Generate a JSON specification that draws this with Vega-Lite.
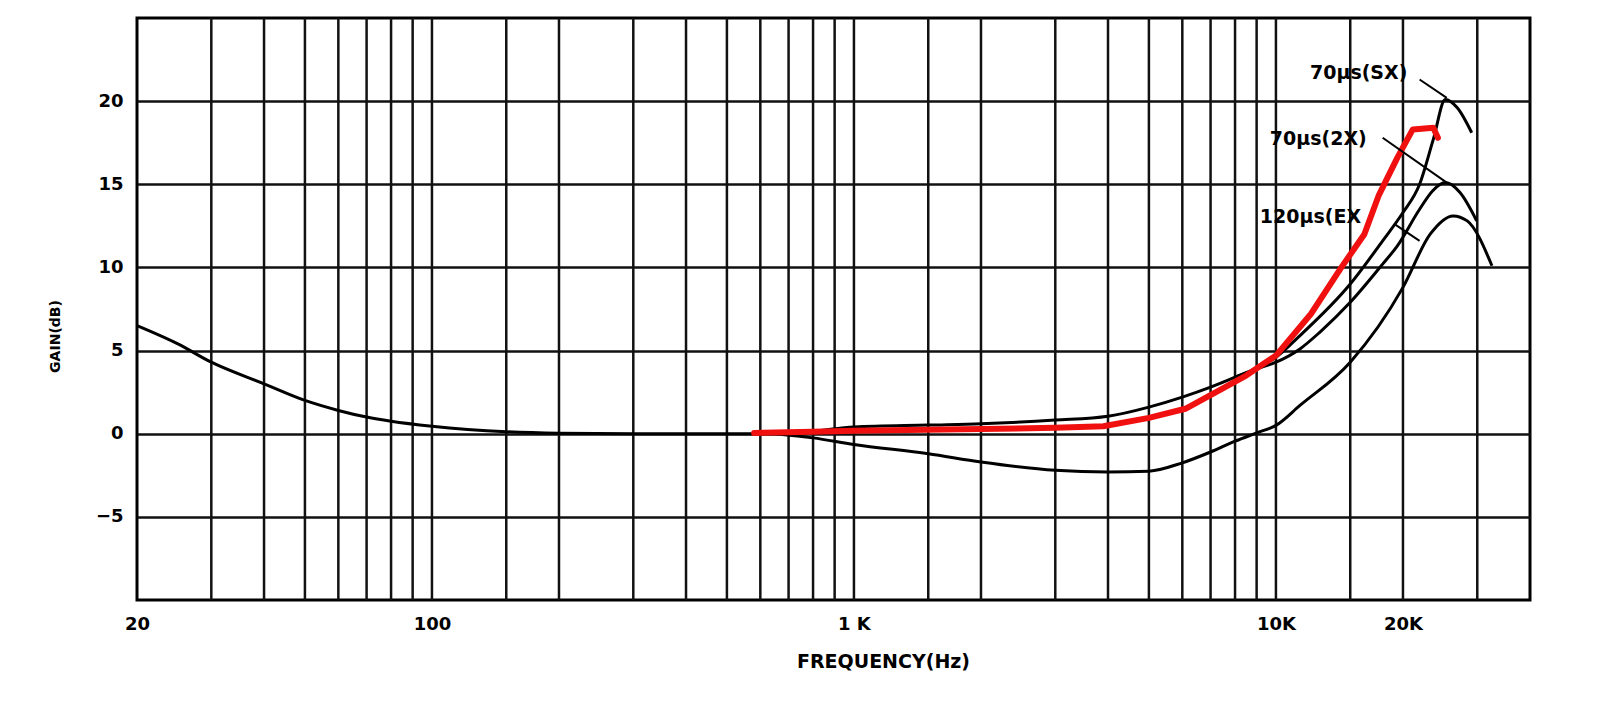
{
  "$schema": "https://vega.github.io/schema/vega-lite/v6.json",
  "width": 1393,
  "height": 582,
  "autosize": {"type": "none"},
  "padding": {"left": 137, "top": 18, "right": 70, "bottom": 105},
  "background": "white",
  "datasets": {
    "grid": [
      {"f": 30}, {"f": 40}, {"f": 50}, {"f": 60}, {"f": 70}, {"f": 80}, {"f": 90},
      {"f": 100}, {"f": 150}, {"f": 200}, {"f": 300}, {"f": 400}, {"f": 500}, {"f": 600}, {"f": 700}, {"f": 800}, {"f": 900},
      {"f": 1000}, {"f": 1500}, {"f": 2000}, {"f": 3000}, {"f": 4000}, {"f": 5000}, {"f": 6000}, {"f": 7000}, {"f": 8000}, {"f": 9000},
      {"f": 10000}, {"f": 15000}, {"f": 20000}, {"f": 30000}
    ],
    "curves": [
      {"series": "common", "f": 20, "db": 6.5},
      {"series": "common", "f": 25, "db": 5.4},
      {"series": "common", "f": 30, "db": 4.3},
      {"series": "common", "f": 40, "db": 3.0},
      {"series": "common", "f": 50, "db": 2.0},
      {"series": "common", "f": 60, "db": 1.4},
      {"series": "common", "f": 70, "db": 1.0},
      {"series": "common", "f": 80, "db": 0.75},
      {"series": "common", "f": 100, "db": 0.45},
      {"series": "common", "f": 150, "db": 0.12},
      {"series": "common", "f": 200, "db": 0.03},
      {"series": "common", "f": 300, "db": 0},
      {"series": "common", "f": 500, "db": 0},
      {"series": "common", "f": 650, "db": 0},

      {"series": "SX", "f": 650, "db": 0},
      {"series": "SX", "f": 800, "db": 0.15},
      {"series": "SX", "f": 1000, "db": 0.4},
      {"series": "SX", "f": 1500, "db": 0.52},
      {"series": "SX", "f": 2000, "db": 0.6},
      {"series": "SX", "f": 3000, "db": 0.82},
      {"series": "SX", "f": 4000, "db": 1.05},
      {"series": "SX", "f": 5000, "db": 1.6},
      {"series": "SX", "f": 6000, "db": 2.2},
      {"series": "SX", "f": 7000, "db": 2.8},
      {"series": "SX", "f": 8000, "db": 3.4},
      {"series": "SX", "f": 9000, "db": 3.95},
      {"series": "SX", "f": 10000, "db": 4.6},
      {"series": "SX", "f": 11400, "db": 5.9},
      {"series": "SX", "f": 15000, "db": 9.0},
      {"series": "SX", "f": 17900, "db": 11.6},
      {"series": "SX", "f": 20000, "db": 13.3},
      {"series": "SX", "f": 21900, "db": 15.0},
      {"series": "SX", "f": 23600, "db": 17.7},
      {"series": "SX", "f": 25200, "db": 20.1},
      {"series": "SX", "f": 26900, "db": 19.6},
      {"series": "SX", "f": 29100, "db": 18.1},

      {"series": "2X", "f": 8000, "db": 3.4},
      {"series": "2X", "f": 9000, "db": 3.9},
      {"series": "2X", "f": 10000, "db": 4.3},
      {"series": "2X", "f": 11400, "db": 5.1},
      {"series": "2X", "f": 12700, "db": 6.1},
      {"series": "2X", "f": 15000, "db": 7.9},
      {"series": "2X", "f": 17900, "db": 10.2},
      {"series": "2X", "f": 19400, "db": 11.3},
      {"series": "2X", "f": 21900, "db": 13.5},
      {"series": "2X", "f": 23500, "db": 14.6},
      {"series": "2X", "f": 25200, "db": 15.1},
      {"series": "2X", "f": 27300, "db": 14.5},
      {"series": "2X", "f": 29900, "db": 12.8},

      {"series": "EX", "f": 650, "db": 0},
      {"series": "EX", "f": 800, "db": -0.25},
      {"series": "EX", "f": 1000, "db": -0.65},
      {"series": "EX", "f": 1500, "db": -1.2},
      {"series": "EX", "f": 2000, "db": -1.7},
      {"series": "EX", "f": 3000, "db": -2.2},
      {"series": "EX", "f": 4000, "db": -2.3},
      {"series": "EX", "f": 5000, "db": -2.25},
      {"series": "EX", "f": 6000, "db": -1.75},
      {"series": "EX", "f": 7000, "db": -1.1},
      {"series": "EX", "f": 8000, "db": -0.45},
      {"series": "EX", "f": 9000, "db": 0.05},
      {"series": "EX", "f": 10000, "db": 0.5},
      {"series": "EX", "f": 11400, "db": 1.7},
      {"series": "EX", "f": 15000, "db": 4.3},
      {"series": "EX", "f": 20000, "db": 8.8},
      {"series": "EX", "f": 23200, "db": 12.0},
      {"series": "EX", "f": 26300, "db": 13.1},
      {"series": "EX", "f": 28400, "db": 12.8},
      {"series": "EX", "f": 32500, "db": 10.1}
    ],
    "red": [
      {"f": 580, "db": 0.05},
      {"f": 800, "db": 0.12},
      {"f": 1000, "db": 0.18},
      {"f": 2000, "db": 0.28},
      {"f": 3000, "db": 0.36},
      {"f": 3900, "db": 0.45},
      {"f": 5000, "db": 0.95},
      {"f": 6100, "db": 1.5},
      {"f": 8500, "db": 3.5},
      {"f": 10000, "db": 4.7},
      {"f": 12100, "db": 7.2},
      {"f": 14200, "db": 9.9},
      {"f": 16200, "db": 12.0},
      {"f": 17500, "db": 14.3},
      {"f": 19400, "db": 16.6},
      {"f": 21100, "db": 18.3},
      {"f": 23600, "db": 18.4},
      {"f": 24200, "db": 17.8}
    ],
    "leaders": [
      {"f": 21900, "db": 21.3, "f2": 25400, "db2": 20.2},
      {"f": 17900, "db": 17.8, "f2": 25400, "db2": 15.1},
      {"f": 19100, "db": 12.6, "f2": 21900, "db2": 11.6}
    ],
    "notes": [
      {"label": "70µs(SX)", "f": 12040, "db": 21.7},
      {"label": "70µs(2X)", "f": 9670, "db": 17.7},
      {"label": "120µs(EX", "f": 9160, "db": 13.05}
    ]
  },
  "layer": [
    {
      "data": {"name": "grid"},
      "mark": {"type": "rule", "color": "#111", "strokeWidth": 2.5},
      "encoding": {
        "x": {
          "field": "f",
          "type": "quantitative",
          "scale": {"type": "log", "domain": [20, 40000], "nice": false},
          "axis": {
            "values": [20, 100, 1000, 10000, 20000],
            "labelExpr": "datum.value == 20 ? '20' : datum.value == 100 ? '100' : datum.value == 1000 ? '1 K' : datum.value == 10000 ? '10K' : '20K'",
            "grid": false,
            "ticks": false,
            "domain": false,
            "labelFlush": false,
            "labelOverlap": false,
            "labelFont": "DejaVu Sans",
            "labelFontSize": 18,
            "labelFontWeight": "bold",
            "labelColor": "black",
            "labelPadding": 15,
            "title": "FREQUENCY(Hz)",
            "titleFont": "DejaVu Sans",
            "titleFontSize": 19,
            "titleFontWeight": "bold",
            "titleColor": "black",
            "titleX": 746,
            "titleY": 61,
            "titleAlign": "center",
            "titleBaseline": "middle"
          }
        }
      }
    },
    {
      "data": {"name": "curves"},
      "mark": {"type": "line", "interpolate": "monotone", "color": "black", "strokeWidth": 3},
      "encoding": {
        "x": {"field": "f", "type": "quantitative", "scale": {"type": "log", "domain": [20, 40000], "nice": false}},
        "y": {
          "field": "db",
          "type": "quantitative",
          "scale": {"domain": [-10, 25], "nice": false, "zero": false},
          "axis": {
            "values": [-5, 0, 5, 10, 15, 20],
            "grid": true,
            "gridColor": "#111",
            "gridWidth": 2.5,
            "gridOpacity": 1,
            "ticks": false,
            "domain": false,
            "labelFont": "DejaVu Sans",
            "labelFontSize": 18,
            "labelFontWeight": "bold",
            "labelColor": "black",
            "labelPadding": 14,
            "title": "GAIN(dB)",
            "titleFont": "DejaVu Sans",
            "titleFontSize": 14,
            "titleFontWeight": "bold",
            "titleColor": "black",
            "titleX": -82,
            "titleY": 318,
            "titleAngle": -90,
            "titleAlign": "center",
            "titleBaseline": "middle"
          }
        },
        "detail": {"field": "series", "type": "nominal"}
      }
    },
    {
      "data": {"name": "red"},
      "mark": {"type": "line", "color": "#f01010", "strokeWidth": 6, "strokeJoin": "round", "strokeCap": "round"},
      "encoding": {
        "x": {"field": "f", "type": "quantitative", "scale": {"type": "log", "domain": [20, 40000], "nice": false}},
        "y": {"field": "db", "type": "quantitative"}
      }
    },
    {
      "data": {"name": "leaders"},
      "mark": {"type": "rule", "color": "black", "strokeWidth": 2},
      "encoding": {
        "x": {"field": "f", "type": "quantitative", "scale": {"type": "log", "domain": [20, 40000], "nice": false}},
        "x2": {"field": "f2"},
        "y": {"field": "db", "type": "quantitative"},
        "y2": {"field": "db2"}
      }
    },
    {
      "data": {"name": "notes"},
      "mark": {"type": "text", "align": "left", "baseline": "middle", "font": "DejaVu Sans", "fontSize": 19, "fontWeight": "bold", "color": "black"},
      "encoding": {
        "x": {"field": "f", "type": "quantitative", "scale": {"type": "log", "domain": [20, 40000], "nice": false}},
        "y": {"field": "db", "type": "quantitative"},
        "text": {"field": "label", "type": "nominal"}
      }
    }
  ],
  "config": {
    "view": {"stroke": "black", "strokeWidth": 3}
  }
}
